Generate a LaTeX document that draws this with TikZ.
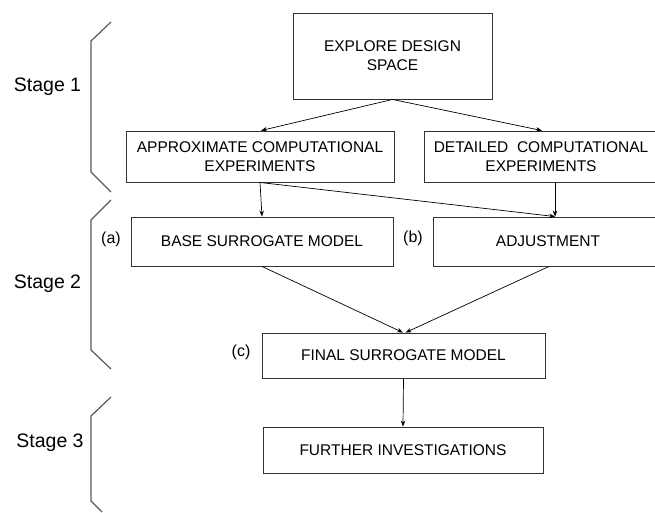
\documentclass[tikz,border=0pt]{standalone}
\usepackage{fontspec}
\setmainfont{Liberation Sans}
\usetikzlibrary{arrows.meta}
\tikzset{
  box/.style={draw=black!80, line width=0.9pt, rectangle, inner sep=0pt, align=center,
    font=\fontsize{15.5}{19}\selectfont},
  plain/.style={inner sep=0pt, align=center, font=\fontsize{15.5}{19}\selectfont},
  tag/.style={inner sep=0pt, font=\fontsize{16}{19}\selectfont},
  stagelab/.style={inner sep=0pt, font=\fontsize{19.5}{22}\selectfont},
  arr/.style={draw=black, line width=0.7pt, -{Stealth[length=6pt,width=4.5pt]}},
  brace/.style={draw=black!65, line width=1.2pt},
}
\begin{document}
\begin{tikzpicture}[x=1pt,y=-1pt]
\useasboundingbox (0,0) rectangle (655,512);
\clip (0,0) rectangle (655,512);
% boxes
\node[box, minimum width=199pt, minimum height=86pt] (explore) at (392.5,56) {EXPLORE DESIGN\\SPACE};
\node[box, minimum width=268pt, minimum height=51pt] (approx) at (260,156.5) {APPROXIMATE COMPUTATIONAL\\EXPERIMENTS};
\node[box, minimum width=262pt, minimum height=51pt] (det) at (555,156.5) {};
\node[plain] (dettxt) at (541,156.5) {DETAILED\ \ COMPUTATIONAL\\EXPERIMENTS};
\node[box, minimum width=262pt, minimum height=49pt] (base) at (262,241.5) {BASE SURROGATE MODEL};
\node[box, minimum width=232pt, minimum height=49pt] (adjust) at (549,241.5) {};
\node[plain] (adjtxt) at (548,241.5) {ADJUSTMENT};
\node[box, minimum width=283pt, minimum height=45pt] (final) at (403.5,355.5) {FINAL SURROGATE MODEL};
\node[box, minimum width=280pt, minimum height=46pt] (further) at (403,450) {FURTHER INVESTIGATIONS};
% tags
\node[tag] (ta) at (111,239) {(a)};
\node[tag] (tb) at (413,238) {(b)};
\node[tag] (tc) at (241,352) {(c)};
% arrows
\draw[arr] (explore.south) -- ([xshift=1pt]approx.north);
\draw[arr] (explore.south) -- ([xshift=-13pt]det.north);
\draw[arr] (approx.south) -- ([xshift=0pt]base.north);
\draw[arr] (approx.south) -- ([xshift=6pt]adjust.north);
\draw[arr] (det.south) -- ([xshift=6pt]adjust.north);
\draw[arr] (base.south) -- ([xshift=-0.5pt]final.north);
\draw[arr] ([xshift=0pt]adjust.south) -- ([xshift=2pt]final.north);
\draw[arr] (final.south) -- (further.north);
% braces
\coordinate (b1a) at (111,22);
\coordinate (b1b) at (91,41);
\coordinate (b1c) at (91,172);
\coordinate (b1d) at (111,192);
\coordinate (b2a) at (111,200);
\coordinate (b2b) at (91,220);
\coordinate (b2c) at (91,350);
\coordinate (b2d) at (111,369);
\coordinate (b3a) at (111,397);
\coordinate (b3b) at (91,416);
\coordinate (b3c) at (91,501);
\coordinate (b3d) at (102,512);
\draw[brace] (b1a) -- (b1b) -- (b1c) -- (b1d);
\draw[brace] (b2a) -- (b2b) -- (b2c) -- (b2d);
\draw[brace] (b3a) -- (b3b) -- (b3c) -- (b3d);
% stage labels
\node[stagelab] (s1) at (47.5,87) {Stage 1};
\node[stagelab] (s2) at (47.5,284) {Stage 2};
\node[stagelab] (s3) at (50,443) {Stage 3};
\end{tikzpicture}
\end{document}
